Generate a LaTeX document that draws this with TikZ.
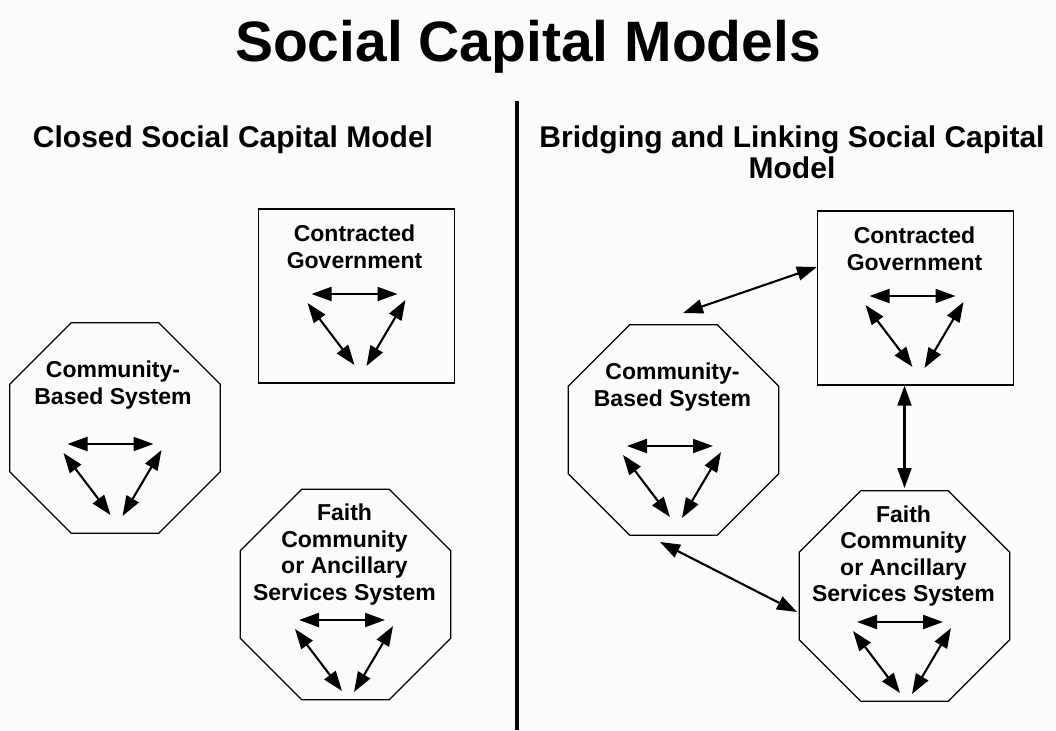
\documentclass[tikz,border=0pt]{standalone}
\usepackage{fontspec}
\setmainfont{Liberation Sans}
\usetikzlibrary{arrows.meta,shapes.geometric,calc}
\definecolor{paper}{RGB}{251,251,251}

\tikzset{
  dbl/.style={{Triangle[length=20pt,width=14pt]}-{Triangle[length=20pt,width=14pt]},line width=2.1pt},
  octa/.style={draw,line width=1.3pt,regular polygon,regular polygon sides=8,minimum size=228pt,inner sep=0pt},
  sysbox/.style={draw,line width=1.3pt,minimum width=196pt,minimum height=174pt,inner sep=0pt},
  systext/.style={font=\bfseries\fontsize{23}{26.5}\selectfont,align=center,inner sep=0pt},
  headtext/.style={font=\bfseries\fontsize{30}{31}\selectfont,align=center,inner sep=0pt},
  triad/.pic={
    \coordinate (-hl) at (-43,0);
    \coordinate (-hr) at (43,0);
    \coordinate (-lt) at (-47,9);
    \coordinate (-lb) at (0,71);
    \coordinate (-rt) at (51,6);
    \coordinate (-rb) at (12,72);
    \draw[dbl] (-hl) -- (-hr);
    \draw[dbl] (-lt) -- (-lb);
    \draw[dbl] (-rt) -- (-rb);
  }
}

\begin{document}
\begin{tikzpicture}[x=1pt,y=-1pt]
\fill[paper] (0,0) rectangle (1056,730);
\useasboundingbox (0,0) rectangle (1056,730);
\node[font=\bfseries\fontsize{57}{60}\selectfont,anchor=base,inner sep=0pt] (title) at (528,62) {Social Capital Models};
\node[headtext,anchor=base] (closedHead) at (233,148) {Closed Social Capital Model};
\node[headtext,anchor=north] (bridgeHead) at (792,126) {Bridging and Linking Social Capital\\Model};
\draw[line width=4pt] (517,101)--(517,730);

\node[sysbox] (govL) at (356.5,296) {};
\node[octa] (comL) at (115,428) {};
\node[octa] (faiL) at (345.5,594.5) {};
\node[systext] (govLtxt) at ($(govL)+(-2,-49)$) {Contracted\\Government};
\node[systext] (comLtxt) at ($(comL)+(-2,-43)$) {Community-\\Based System};
\node[systext] (faiLtxt) at ($(faiL)+(-1,-40)$) {Faith\\Community\\or Ancillary\\Services System};
\pic (govLtri) at ($(govL)+(-2,-2)$) {triad};
\pic (comLtri) at ($(comL)+(-4.5,16)$) {triad};
\pic (faiLtri) at ($(faiL)+(-3.5,25.5)$) {triad};

\node[sysbox] (govR) at (915.5,298) {};
\node[octa] (comR) at (673.5,430) {};
\node[octa] (faiR) at (904.5,596) {};
\node[systext] (govRtxt) at ($(govR)+(-1,-49)$) {Contracted\\Government};
\node[systext] (comRtxt) at ($(comR)+(-1,-43)$) {Community-\\Based System};
\node[systext] (faiRtxt) at ($(faiR)+(-1,-40)$) {Faith\\Community\\or Ancillary\\Services System};
\pic (govRtri) at ($(govR)+(-3,-2)$) {triad};
\pic (comRtri) at ($(comR)+(-3.5,16)$) {triad};
\pic (faiRtri) at ($(faiR)+(-4.5,26)$) {triad};

\draw[dbl] ([yshift=31pt]govR.west) -- ($(comR)+(9.5,-117)$);
\draw[dbl] (govR.south -| faiR.center) -- ($(faiR)+(0,-108)$);
\draw[dbl] ($(comR)+(-13.5,112)$) -- ($(faiR)+(-107.5,16)$);
\end{tikzpicture}
\end{document}
